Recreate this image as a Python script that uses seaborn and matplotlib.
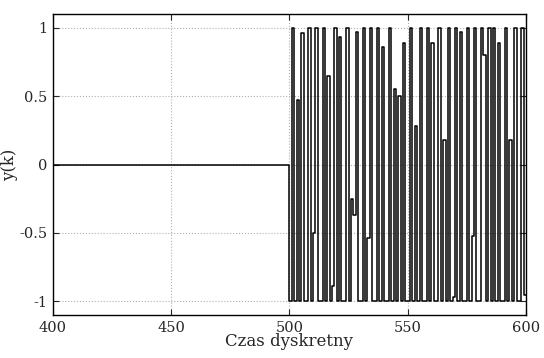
#!/usr/bin/env python3

import seaborn as sns
import matplotlib
matplotlib.use('Agg')
import matplotlib.pyplot as plt
import pandas as pd

# time axis and signal
k_zero = list(range(400, 500))
y_zero = [0.0] * len(k_zero)

k_sig = list(range(500, 601))
y_sig = [-1, 1, -1, 0.47, -1, 0.96, -1, -1, 1, -1,
         -0.5, 1, -1, -1, 1, -1, 0.65, -1, -0.89, 1,
         -1, 0.93, -1, -1, 1, -1, -0.25, -0.37, 0.97, -1,
         -1, 1, -1, -0.54, 1, -1, -1, 1, -1, 0.86,
         -1, -1, 1, -1, 0.55, -1, 0.50, -1, 0.89, -1,
         -1, 1, -1, 0.28, -1, 1, -1, -1, 1, -1,
         0.89, -1, -1, 1, -1, 0.18, -1, 1, -1, -0.97,
         1, -1, 0.97, -1, -1, 1, -1, -0.52, 1, -1,
         -1, 1, 0.80, -1, 1, -1, 1, -1, 0.89, -1,
         -1, 1, -1, 0.18, -1, 1, -1, -1, 1, -0.95,
         -0.95]

xticks = [400, 450, 500, 550, 600]
yticks = [-1, -0.5, 0, 0.5, 1]
yticklabels = ['-1', '-0.5', '0', '0.5', '1']

df = pd.DataFrame({'k': k_zero + k_sig, 'y': y_zero + y_sig})

sns.set_style('white')
plt.rcParams['font.family'] = ['DejaVu Serif']

fig = plt.figure(figsize=(5.44, 3.58), dpi=100)
ax = fig.add_axes([0.097, 0.12, 0.870, 0.841])

sns.lineplot(data=df, x='k', y='y', color='black', linewidth=1.1,
             drawstyle='steps-post', ax=ax)

ax.set_xlim(400, 600)
ax.set_ylim(-1.1, 1.1)
ax.set_xticks(xticks)
ax.set_xticklabels([str(t) for t in xticks])
ax.set_yticks(yticks)
ax.set_yticklabels(yticklabels)

ax.grid(True, linestyle=':', color='#b0b0b0', linewidth=0.8)
ax.tick_params(direction='in', length=4, width=0.8, labelsize=10.5,
               top=True, right=True, bottom=True, left=True, pad=4)
for s in ax.spines.values():
    s.set_color('black')
    s.set_linewidth(1.0)

ax.set_xlabel('Czas dyskretny', fontsize=12, labelpad=-1)
ax.set_ylabel('y(k)', fontsize=12, labelpad=1)

plt.savefig('out.png', dpi=100)
